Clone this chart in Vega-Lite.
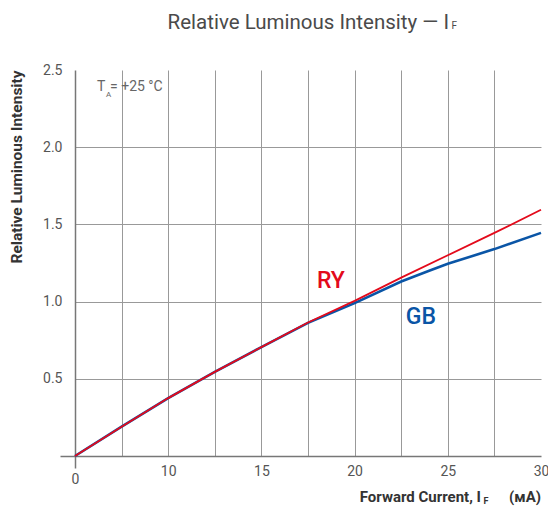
{
  "$schema": "https://vega.github.io/schema/vega-lite/v6.json",
  "autosize": "none",
  "padding": {"left": 75, "top": 70, "right": 7, "bottom": 50},
  "width": 466,
  "height": 386,
  "config": {
    "font": "Roboto",
    "view": {"stroke": null},
    "axis": {"labelFont": "Roboto", "titleFont": "Roboto"}
  },
  "title": {
    "text": "Relative Luminous Intensity — I",
    "frame": "group",
    "anchor": "end",
    "dx": -92,
    "baseline": "alphabetic",
    "offset": -28,
    "fontSize": 20.5,
    "fontWeight": 400,
    "color": "#4a4a4a",
    "font": "Roboto"
  },
  "datasets": {
    "curves": [
      {"current": 0, "intensity": 0, "series": "GB"},
      {"current": 5, "intensity": 0.19, "series": "GB"},
      {"current": 10, "intensity": 0.375, "series": "GB"},
      {"current": 12.5, "intensity": 0.545, "series": "GB"},
      {"current": 15, "intensity": 0.705, "series": "GB"},
      {"current": 17.5, "intensity": 0.862, "series": "GB"},
      {"current": 20, "intensity": 0.99, "series": "GB"},
      {"current": 22.5, "intensity": 1.13, "series": "GB"},
      {"current": 24, "intensity": 1.2, "series": "GB"},
      {"current": 25, "intensity": 1.245, "series": "GB"},
      {"current": 27.5, "intensity": 1.34, "series": "GB"},
      {"current": 30, "intensity": 1.445, "series": "GB"},
      {"current": 0, "intensity": 0, "series": "RY"},
      {"current": 5, "intensity": 0.19, "series": "RY"},
      {"current": 10, "intensity": 0.375, "series": "RY"},
      {"current": 12.5, "intensity": 0.545, "series": "RY"},
      {"current": 15, "intensity": 0.705, "series": "RY"},
      {"current": 17.5, "intensity": 0.865, "series": "RY"},
      {"current": 20, "intensity": 1.005, "series": "RY"},
      {"current": 22.5, "intensity": 1.155, "series": "RY"},
      {"current": 25, "intensity": 1.3, "series": "RY"},
      {"current": 27.5, "intensity": 1.445, "series": "RY"},
      {"current": 30, "intensity": 1.595, "series": "RY"}
    ],
    "seriesLabels": [
      {"label": "RY", "current": 18.73, "intensity": 1.131, "series": "RY"},
      {"label": "GB", "current": 23.56, "intensity": 0.899, "series": "GB"}
    ],
    "notes": [
      {"text": "T", "current": 2.36, "intensity": 2.366},
      {"text": "= +25 °C", "current": 3.76, "intensity": 2.366}
    ],
    "noteSubs": [
      {"text": "A", "current": 3.33, "intensity": 2.327}
    ],
    "titleSubs": [
      {"text": "F", "current": 25.2, "intensity": 2.765}
    ],
    "axisTitleParts": [
      {"text": "Forward Current, I", "current": 26.78, "intensity": -0.297},
      {"text": "(мA)", "current": 30, "intensity": -0.297}
    ],
    "axisSubs": [
      {"text": "F", "current": 26.92, "intensity": -0.31}
    ]
  },
  "layer": [
    {
      "data": {"name": "curves"},
      "transform": [{"filter": "datum.series === 'GB'"}],
      "mark": {"type": "line", "strokeWidth": 2.6, "interpolate": "linear"},
      "encoding": {
        "x": {
          "field": "current",
          "type": "quantitative",
          "scale": {"domain": [0, 10, 30], "range": [0, 93.2, 466], "nice": false},
          "axis": {
            "title": null,
            "values": [0, 5, 10, 12.5, 15, 17.5, 20, 22.5, 25, 27.5, 30],
            "labelExpr": "indexof([0, 10, 15, 20, 25, 30], datum.value) >= 0 ? format(datum.value, 'd') : ''",
            "labelFontSize": 14,
            "labelColor": "#555555",
            "labelPadding": {"condition": {"test": "datum.value === 0", "value": 4}, "value": -4},
            "labelFlush": false,
            "labelOverlap": false,
            "domainColor": "#777777",
            "domainWidth": 1.5,
            "ticks": true,
            "tickSize": 12,
            "tickWidth": 1.5,
            "tickColor": "#777777",
            "tickOpacity": {"condition": {"test": "datum.value === 0", "value": 1}, "value": 0},
            "grid": true,
            "gridColor": "#999999",
            "gridWidth": 1,
            "gridOpacity": {"condition": {"test": "datum.value === 0 || datum.value === 30", "value": 0}, "value": 1}
          }
        },
        "y": {
          "field": "intensity",
          "type": "quantitative",
          "scale": {"domain": [0, 2.5], "nice": false},
          "axis": {
            "title": "Relative Luminous Intensity",
            "titleAnchor": "end",
            "titleFontSize": 15.5,
            "titleFontWeight": "bold",
            "titleColor": "#333333",
            "titlePadding": 18,
            "values": [0, 0.25, 0.5, 0.75, 1, 1.25, 1.5, 1.75, 2, 2.25, 2.5],
            "labelExpr": "datum.value > 0 && floor(datum.value * 2) == datum.value * 2 ? format(datum.value, '.1f') : ''",
            "labelFontSize": 14,
            "labelColor": "#555555",
            "labelPadding": -2,
            "labelOverlap": false,
            "labelFlush": false,
            "domainColor": "#777777",
            "domainWidth": 1.5,
            "ticks": true,
            "tickSize": 15,
            "tickWidth": 1.5,
            "tickColor": "#777777",
            "tickOpacity": {"condition": {"test": "datum.value === 0", "value": 1}, "value": 0},
            "grid": true,
            "gridColor": "#999999",
            "gridWidth": 1,
            "gridOpacity": {"condition": {"test": "datum.value === 0 || datum.value === 2.5", "value": 0}, "value": 1}
          }
        },
        "color": {
          "field": "series",
          "type": "nominal",
          "scale": {"domain": ["GB", "RY"], "range": ["#0a55a6", "#e30a1b"]},
          "legend": null
        }
      }
    },
    {
      "data": {"name": "curves"},
      "transform": [{"filter": "datum.series === 'RY'"}],
      "mark": {"type": "line", "strokeWidth": 1.8, "interpolate": "linear"},
      "encoding": {
        "x": {"field": "current", "type": "quantitative"},
        "y": {"field": "intensity", "type": "quantitative"},
        "color": {"field": "series", "type": "nominal", "legend": null}
      }
    },
    {
      "data": {"name": "seriesLabels"},
      "mark": {"type": "text", "fontSize": 23, "fontWeight": 500, "align": "center", "baseline": "middle"},
      "encoding": {
        "x": {"field": "current", "type": "quantitative"},
        "y": {"field": "intensity", "type": "quantitative"},
        "text": {"field": "label"},
        "color": {"field": "series", "type": "nominal", "legend": null}
      }
    },
    {
      "data": {"name": "notes"},
      "mark": {"type": "text", "fontSize": 14, "align": "left", "baseline": "alphabetic", "color": "#666666"},
      "encoding": {
        "x": {"field": "current", "type": "quantitative"},
        "y": {"field": "intensity", "type": "quantitative"},
        "text": {"field": "text"}
      }
    },
    {
      "data": {"name": "noteSubs"},
      "mark": {"type": "text", "fontSize": 8, "align": "left", "baseline": "alphabetic", "color": "#666666"},
      "encoding": {
        "x": {"field": "current", "type": "quantitative"},
        "y": {"field": "intensity", "type": "quantitative"},
        "text": {"field": "text"}
      }
    },
    {
      "data": {"name": "titleSubs"},
      "mark": {"type": "text", "fontSize": 10, "align": "left", "baseline": "alphabetic", "color": "#4a4a4a"},
      "encoding": {
        "x": {"field": "current", "type": "quantitative"},
        "y": {"field": "intensity", "type": "quantitative"},
        "text": {"field": "text"}
      }
    },
    {
      "data": {"name": "axisTitleParts"},
      "mark": {"type": "text", "fontSize": 15, "fontWeight": "bold", "align": "right", "baseline": "alphabetic", "color": "#333333"},
      "encoding": {
        "x": {"field": "current", "type": "quantitative"},
        "y": {"field": "intensity", "type": "quantitative"},
        "text": {"field": "text"}
      }
    },
    {
      "data": {"name": "axisSubs"},
      "mark": {"type": "text", "fontSize": 9, "fontWeight": "bold", "align": "left", "baseline": "alphabetic", "color": "#333333"},
      "encoding": {
        "x": {"field": "current", "type": "quantitative"},
        "y": {"field": "intensity", "type": "quantitative"},
        "text": {"field": "text"}
      }
    }
  ]
}
